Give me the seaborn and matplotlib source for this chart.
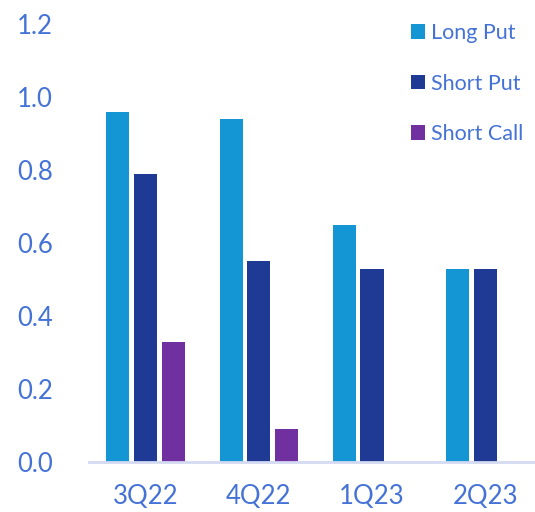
import matplotlib
matplotlib.use("Agg")
import matplotlib.pyplot as plt
import seaborn as sns
import pandas as pd
import numpy as np

quarters = ["3Q22", "4Q22", "1Q23", "2Q23"]
long_put = [0.96, 0.94, 0.65, 0.53]
short_put = [0.79, 0.55, 0.53, 0.53]
short_call = [0.33, 0.09, np.nan, np.nan]
series = ["Long Put", "Short Put", "Short Call"]
yticks = [0.0, 0.2, 0.4, 0.6, 0.8, 1.0, 1.2]

colors = ["#1596D4", "#1E3A94", "#7030A0"]
text_color = "#4472D6"

sns.set_theme(style="white")
plt.rcParams["font.family"] = ["Lato", "DejaVu Sans"]

df = pd.DataFrame({
    "quarter": quarters * 3,
    "value": long_put + short_put + short_call,
    "series": [s for s in series for _ in quarters],
})

fig = plt.figure(figsize=(5.35, 5.12), dpi=100)
ax = fig.add_axes([89 / 535, 1 - 462 / 512, 1 - 89 / 535, (462 - 24) / 512])

sns.barplot(data=df, x="quarter", y="value", hue="series", order=quarters,
            hue_order=series, palette=colors, width=0.735, gap=0.17,
            linewidth=0, saturation=1, ax=ax, legend=True)

ax.set_xlim(-0.5, 3.44)
ax.set_ylim(0, 1.2)
ax.set_yticks(yticks)
ax.set_yticklabels([f"{v:.1f}" for v in yticks])
ax.set_xlabel("")
ax.set_ylabel("")
ax.tick_params(axis="both", length=0, labelsize=18.5, colors=text_color)
ax.tick_params(axis="y", pad=26)
ax.tick_params(axis="x", pad=16)

for side in ["top", "right", "left"]:
    ax.spines[side].set_visible(False)
ax.spines["bottom"].set_color("#D3DAF2")
ax.spines["bottom"].set_linewidth(2)

handles, labels = ax.get_legend_handles_labels()
ax.legend(handles, labels, loc="upper left", bbox_to_anchor=(411 / 535, 1 - 23 / 512),
          bbox_transform=fig.transFigure, frameon=False, fontsize=15.5,
          handlelength=0.65, handleheight=0.65, handletextpad=0.3,
          labelspacing=1.42, borderpad=0, borderaxespad=0, labelcolor=text_color)

fig.savefig("out.png", dpi=100)
